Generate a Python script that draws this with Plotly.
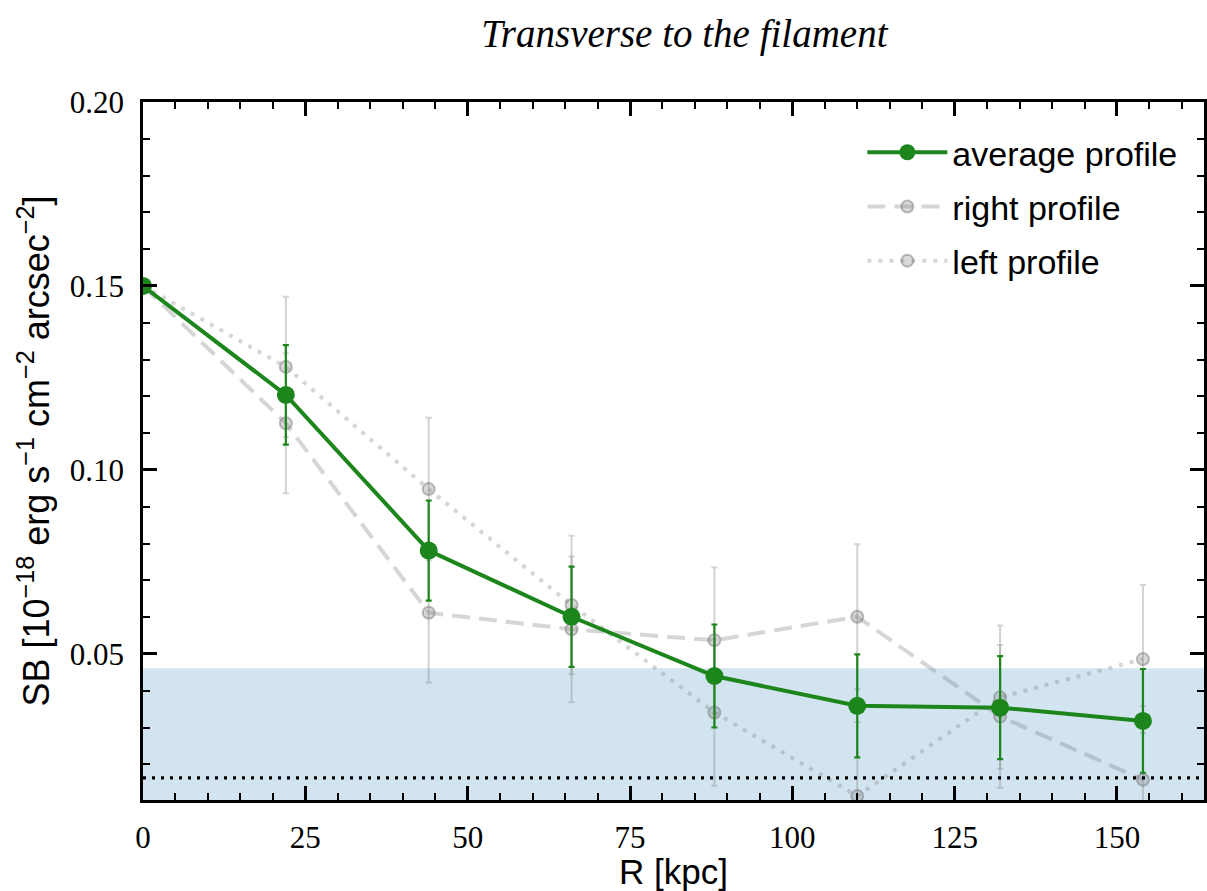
import plotly.graph_objects as go

# ---- data ----
R_kpc = [0, 22, 44, 66, 88, 110, 132, 154]
avg_sb = [0.150, 0.1204, 0.0781, 0.0601, 0.0440, 0.0359, 0.0354, 0.0318]
avg_err = [0.0, 0.0135, 0.0136, 0.0136, 0.0140, 0.0140, 0.0140, 0.0141]
right_sb = [0.150, 0.1127, 0.0612, 0.0567, 0.0537, 0.0601, 0.0330, 0.0158]
right_err = [0.0, 0.0190, 0.0190, 0.0198, 0.0198, 0.0197, 0.0194, 0.0200]
left_sb = [0.150, 0.1280, 0.0948, 0.0633, 0.0341, 0.0114, 0.0382, 0.0486]
left_err = [0.0, 0.0191, 0.0194, 0.0188, 0.0199, 0.0200, 0.0195, 0.0201]
band_top = 0.0461
noise_level = 0.0163
x_range = [0, 163.4]
y_range = [0.0103, 0.20]
x_major_ticks = [0, 25, 50, 75, 100, 125, 150]
y_major_ticks = [0.05, 0.10, 0.15, 0.20]

GREEN = "rgb(28,134,28)"
GRAY_LINE = "rgba(128,128,128,0.32)"
GRAY_ERR = "rgba(128,128,128,0.35)"

fig = go.Figure()

# right profile (dashed)
fig.add_trace(go.Scatter(
    x=R_kpc, y=right_sb, name="right profile", mode="lines+markers",
    line=dict(color=GRAY_LINE, width=4, dash="18px,9px"),
    marker=dict(size=12, color="rgba(128,128,128,0.3)",
                line=dict(color="rgba(110,110,110,0.45)", width=2)),
    error_y=dict(type="data", array=right_err, visible=True,
                 color=GRAY_ERR, thickness=2, width=3),
    legendrank=2, legendgroup="b",
))
# left profile (dotted)
fig.add_trace(go.Scatter(
    x=R_kpc, y=left_sb, name="left profile", mode="lines+markers",
    line=dict(color=GRAY_LINE, width=4, dash="4px,7px"),
    marker=dict(size=12, color="rgba(128,128,128,0.3)",
                line=dict(color="rgba(110,110,110,0.45)", width=2)),
    error_y=dict(type="data", array=left_err, visible=True,
                 color=GRAY_ERR, thickness=2, width=3),
    legendrank=3, legendgroup="c",
))
# average profile
fig.add_trace(go.Scatter(
    x=R_kpc, y=avg_sb, name="average profile", mode="lines+markers",
    line=dict(color=GREEN, width=4),
    marker=dict(size=18, color=GREEN),
    error_y=dict(type="data", array=avg_err, visible=True,
                 color=GREEN, thickness=2.2, width=3),
    legendrank=1, legendgroup="a",
))

# shaded band and noise level line
fig.add_shape(type="rect", xref="paper", x0=0, x1=1, yref="y",
              y0=0, y1=band_top, fillcolor="rgba(31,119,180,0.2)",
              line=dict(width=0), layer="below")
fig.add_shape(type="line", xref="paper", x0=0, x1=1, yref="y",
              y0=noise_level, y1=noise_level,
              line=dict(color="black", width=3.2, dash="3px,6px"), layer="above")

tickfont = dict(family="Liberation Serif", size=31, color="black")
fig.update_layout(
    width=1207, height=891,
    margin=dict(l=143, r=0, t=102, b=91),
    paper_bgcolor="white", plot_bgcolor="white",
    title=dict(text="Transverse to the filament",
               font=dict(family="Liberation Serif", size=39, style="italic", color="black"),
               x=0.567, xref="container", xanchor="center",
               y=1 - 33 / 891, yref="container", yanchor="middle"),
    legend=dict(x=0.678, y=0.969, xanchor="left", yanchor="top",
                font=dict(family="Liberation Sans", size=34, color="black"),
                bgcolor="rgba(0,0,0,0)", itemwidth=80,
                traceorder="grouped", tracegroupgap=7),
    showlegend=True,
)
fig.update_xaxes(
    range=x_range, tickvals=x_major_ticks, ticks="inside", ticklen=14, tickwidth=2.5,
    tickcolor="black", showline=True, linecolor="black", linewidth=2.5, mirror="ticks",
    showgrid=False, zeroline=False, tickfont=tickfont, ticklabelstandoff=8,
    minor=dict(dtick=5, tick0=0, ticks="inside", ticklen=7, tickwidth=2, tickcolor="black", showgrid=False),
    title=dict(text="R [kpc]", font=dict(family="Liberation Sans", size=35, color="black"), standoff=12),
)
fig.update_yaxes(
    range=y_range, tickvals=y_major_ticks, tickformat=".2f", ticks="inside", ticklen=14, tickwidth=2.5,
    tickcolor="black", showline=True, linecolor="black", linewidth=2.5, mirror="ticks",
    showgrid=False, zeroline=False, tickfont=tickfont, ticklabelstandoff=10,
    minor=dict(dtick=0.01, tick0=0, ticks="inside", ticklen=7, tickwidth=2, tickcolor="black", showgrid=False),
    title=dict(text="SB [10<sup>−18</sup> erg s<sup>−1</sup> cm<sup>−2</sup> arcsec<sup>−2</sup>]",
               font=dict(family="Liberation Sans", size=36, color="black"), standoff=10),
)

fig.write_html("out.html")
